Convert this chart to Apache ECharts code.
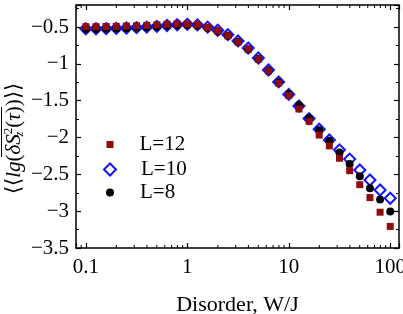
<!DOCTYPE html>
<html><head><meta charset="utf-8">
<script src="https://cdn.jsdelivr.net/npm/echarts@6/dist/echarts.min.js"></script>
<style>html,body{margin:0;padding:0;background:#fff}#c{width:403px;height:314px}</style>
</head><body><div id="c"></div>
<script>
// Disorder W/J sample points (10 per decade)
const disorder = [0.1, 0.1259, 0.1585, 0.1995, 0.2512, 0.3162, 0.3981, 0.5012, 0.631, 0.7943,
  1, 1.259, 1.585, 1.995, 2.512, 3.162, 3.981, 5.012, 6.31, 7.943,
  10, 12.59, 15.85, 19.95, 25.12, 31.62, 39.81, 50.12, 63.1, 79.43, 100];
const L12 = [-0.495, -0.495, -0.492, -0.49, -0.486, -0.482, -0.477, -0.47, -0.462, -0.457,
  -0.457, -0.468, -0.505, -0.55, -0.617, -0.703, -0.8, -0.935, -1.095, -1.26,
  -1.428, -1.612, -1.78, -1.966, -2.113, -2.281, -2.45, -2.64, -2.815, -3.014, -3.207];
const L10 = [-0.522, -0.522, -0.52, -0.517, -0.512, -0.507, -0.5, -0.49, -0.478, -0.468,
  -0.462, -0.47, -0.5, -0.543, -0.603, -0.688, -0.785, -0.92, -1.083, -1.245,
  -1.414, -1.572, -1.743, -1.887, -2.032, -2.167, -2.293, -2.441, -2.577, -2.712, -2.824];
const L8 = [-0.525, -0.525, -0.523, -0.52, -0.515, -0.51, -0.503, -0.494, -0.483, -0.474,
  -0.47, -0.48, -0.512, -0.557, -0.617, -0.7, -0.8, -0.935, -1.09, -1.25,
  -1.41, -1.563, -1.739, -1.901, -2.045, -2.203, -2.36, -2.527, -2.689, -2.842, -3.005];
const seriesNames = ['L=12', 'L=10', 'L=8'];
const xMajorTicks = [0.1, 1, 10, 100];
const xMinorTicks = [0.09, 0.2, 0.3, 0.4, 0.5, 0.6, 0.7, 0.8, 0.9, 2, 3, 4, 5, 6, 7, 8, 9,
  20, 30, 40, 50, 60, 70, 80, 90];
const xRange = [0.08, 122];
const yRange = [-3.5, -0.2];
const yStep = 0.5;
const yMinorStep = 0.25;
const xTitle = 'Disorder, W/J';

const FF = 'Liberation Serif';
const FS = 21;
const ink = '#000';
const pair = (xs, ys) => xs.map((x, i) => [x, ys[i]]);
const fmtY = v => (Math.abs(v / yStep - Math.round(v / yStep)) < 1e-6) ? (v < 0 ? '\u2212' : '') + Math.abs(v) : '';
const fmtX = v => xMajorTicks.some(t => Math.abs(t - v) / t < 1e-6) ? String(v) : '';

const axisLine = {show: true, onZero: false, lineStyle: {color: ink, width: 1.5}};
const baseX = {type: 'log', logBase: 10, min: xRange[0], max: xRange[1], splitLine: {show: false}, axisLine};
const baseY = {type: 'value', min: yRange[0], max: yRange[1], splitLine: {show: false}};

const legendBase = {orient: 'vertical', selectedMode: false,
  textStyle: {fontFamily: FF, fontSize: FS, color: ink, lineHeight: 20}};

const chart = echarts.init(document.getElementById('c'), null, {renderer: 'canvas'});
chart.setOption({
  animation: false,
  backgroundColor: '#fff',
  grid: {left: 76, right: 4, top: 5, bottom: 66, containLabel: false, outerBoundsMode: 'none'},
  xAxis: [
    Object.assign({}, baseX, {position: 'bottom',
      axisTick: {inside: true, length: 5, lineStyle: {color: ink, width: 1.2}},
      axisLabel: {formatter: fmtX, margin: 9, fontFamily: FF, fontSize: FS, color: ink},
      name: xTitle, nameLocation: 'middle', nameGap: 46, nameMoveOverlap: false,
      nameTextStyle: {fontFamily: FF, fontSize: 22, color: ink}}),
    Object.assign({}, baseX, {position: 'top',
      axisTick: {inside: true, length: 5, lineStyle: {color: ink, width: 1.2}},
      axisLabel: {show: false}})
  ],
  yAxis: [
    Object.assign({}, baseY, {position: 'left', interval: yStep, axisLine,
      axisTick: {inside: true, length: 5, lineStyle: {color: ink, width: 1.2}},
      axisLabel: {formatter: fmtY, margin: 7, fontFamily: FF, fontSize: FS, color: ink},
      name: '{n|\u27E8\u27E8}{i|lg}{n|(}{i|\u03B4S}{sub|z}{sup|2}{n|(}{i|\u03C4}{n|))\u27E9\u27E9}',
      nameLocation: 'middle', nameGap: 50, nameMoveOverlap: false,
      nameTextStyle: {fontFamily: FF, fontSize: FS, color: ink, padding: [0, 24, 0, 0],
        rich: {
          n: {fontFamily: FF, fontSize: FS, color: ink, lineHeight: 24},
          i: {fontFamily: FF, fontSize: FS, fontStyle: 'italic', color: ink, lineHeight: 24},
          sub: {fontFamily: FF, fontSize: 12, fontStyle: 'italic', color: ink, verticalAlign: 'bottom', lineHeight: 24, width: 0.01},
          sup: {fontFamily: FF, fontSize: 13, color: ink, verticalAlign: 'top', lineHeight: 24}
        }}}),
    Object.assign({}, baseY, {position: 'left', interval: yMinorStep, axisLine: {show: false},
      axisTick: {inside: true, length: 3, lineStyle: {color: ink, width: 1}}, axisLabel: {show: false}}),
    Object.assign({}, baseY, {position: 'right', interval: yStep, axisLine,
      axisTick: {inside: true, length: 5, lineStyle: {color: ink, width: 1.2}}, axisLabel: {show: false}}),
    Object.assign({}, baseY, {position: 'right', interval: yMinorStep, axisLine: {show: false},
      axisTick: {inside: true, length: 3, lineStyle: {color: ink, width: 1}}, axisLabel: {show: false}})
  ],
  legend: [
    Object.assign({}, legendBase, {data: [seriesNames[0]], left: 101.5, top: 129, itemWidth: 7, itemHeight: 7,
      textStyle: Object.assign({}, legendBase.textStyle, {padding: [0, 0, 0, 21]})}),
    Object.assign({}, legendBase, {data: [seriesNames[1]], left: 98, top: 154, itemWidth: 12, itemHeight: 12,
      textStyle: Object.assign({}, legendBase.textStyle, {padding: [0, 0, 0, 20]})}),
    Object.assign({}, legendBase, {data: [seriesNames[2]], left: 101, top: 177, itemWidth: 8, itemHeight: 8,
      textStyle: Object.assign({}, legendBase.textStyle, {padding: [0, 0, 0, 21]})})
  ],
  graphic: [
    {type: 'line', shape: {x1: 1.5, y1: 107, x2: 1.5, y2: 157}, style: {stroke: ink, lineWidth: 1}}
  ],
  series: [
    {type: 'scatter', name: seriesNames[1], data: pair(disorder, L10), symbol: 'diamond', symbolSize: 11,
      itemStyle: {color: 'rgba(0,0,0,0)', borderColor: '#1212ff', borderWidth: 2, opacity: 1}, z: 2, emphasis: {disabled: true}},
    {type: 'scatter', name: seriesNames[2], data: pair(disorder, L8), symbol: 'circle', symbolSize: 8,
      itemStyle: {color: '#000', opacity: 1}, z: 3, emphasis: {disabled: true}},
    {type: 'scatter', name: seriesNames[0], data: pair(disorder, L12), symbol: 'rect', symbolSize: 7,
      itemStyle: {color: '#8e0c0c', opacity: 1}, z: 4, emphasis: {disabled: true}},
    {type: 'scatter', name: 'minorBottom', data: xMinorTicks.map(x => [x, yRange[0]]), symbol: 'rect',
      symbolSize: [1, 3], symbolOffset: [0, -1.5], itemStyle: {color: ink, opacity: 1}, silent: true, clip: false, z: 5},
    {type: 'scatter', name: 'minorTop', data: xMinorTicks.map(x => [x, yRange[1]]), symbol: 'rect',
      symbolSize: [1, 3], symbolOffset: [0, 1.5], itemStyle: {color: ink, opacity: 1}, silent: true, clip: false, z: 5}
  ]
});
</script>
</body></html>
